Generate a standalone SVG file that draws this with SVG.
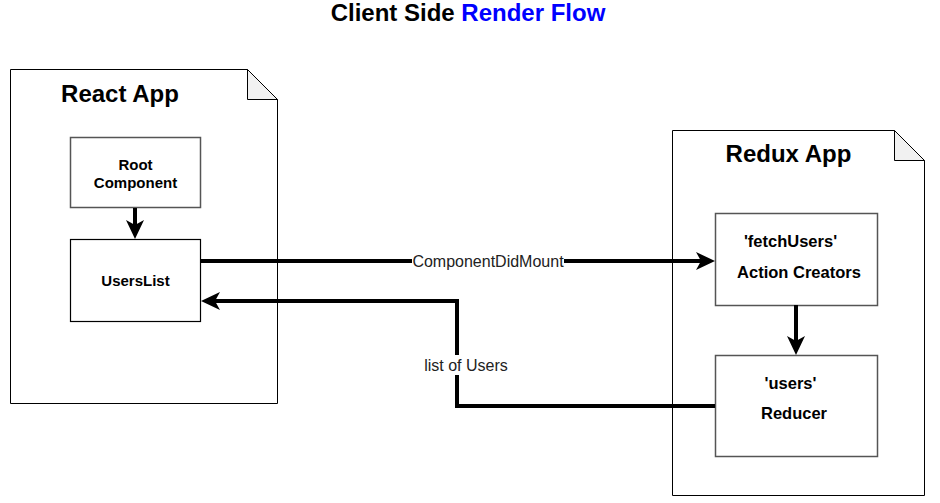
<svg xmlns="http://www.w3.org/2000/svg" width="940" height="503" viewBox="0 0 940 503">
<style>
.doc{fill:#fff;stroke:#000;stroke-width:1}
.fold{fill:#f1f1f1;stroke:#000;stroke-width:1}
.box{fill:#fff;stroke:#555;stroke-width:1.5}
.boxb{fill:#fff;stroke:#000;stroke-width:1.2}
.title{font-family:"Liberation Sans",Arial,sans-serif;font-weight:bold;font-size:24px;fill:#000}
.bt{font-family:"Liberation Sans",Arial,sans-serif;font-weight:bold;font-size:15px;fill:#000;text-anchor:middle}
.bt2{font-family:"Liberation Sans",Arial,sans-serif;font-weight:bold;font-size:16.5px;fill:#000;text-anchor:middle}
.el{font-family:"Liberation Sans",Arial,sans-serif;font-size:16px;fill:#222;text-anchor:middle}
.conn{fill:none;stroke:#000;stroke-width:4}
</style>
<defs>
<marker id="arr" markerUnits="userSpaceOnUse" markerWidth="22" markerHeight="22" refX="6" refY="10" orient="auto">
<path d="M20,10 L1,1 L6,10 L1,19 Z" fill="#000"/>
</marker>
</defs>
<text class="title" x="468" y="21" text-anchor="middle">Client Side <tspan fill="#0000ff">Render Flow</tspan></text>
<g id="react-app">
<path class="doc" d="M10.5,69.5 H247.5 L277.5,99.5 V403.5 H10.5 Z"/>
<path class="fold" d="M247.5,69.5 V99.5 H277.5 Z"/>
<text class="title" x="120" y="102" text-anchor="middle">React App</text>
</g>
<g id="root-component">
<rect class="box" x="70.5" y="137.5" width="130" height="70"/>
<text class="bt" x="135.5" y="170">Root</text>
<text class="bt" x="135.5" y="188">Component</text>
</g>
<g id="users-list">
<rect class="boxb" x="70.5" y="239.5" width="130" height="82"/>
<text class="bt" x="135.5" y="286">UsersList</text>
</g>
<g id="redux-app">
<path class="doc" d="M672.5,130.5 H894.5 L924.5,160.5 V495.5 H672.5 Z"/>
<path class="fold" d="M894.5,130.5 V160.5 H924.5 Z"/>
<text class="title" x="788.5" y="162" text-anchor="middle">Redux App</text>
</g>
<g id="action-creators">
<rect class="box" x="715.5" y="213.5" width="162" height="92"/>
<text class="bt2" x="790.5" y="246.5">'fetchUsers'</text>
<text class="bt2" x="799" y="277.5">Action Creators</text>
</g>
<g id="reducer">
<rect class="box" x="715.5" y="355.5" width="162" height="101"/>
<text class="bt2" x="790.5" y="389">'users'</text>
<text class="bt2" x="794" y="419">Reducer</text>
</g>
<g id="connectors">
<path class="conn" d="M135,208 V225" marker-end="url(#arr)"/>
<path class="conn" d="M200,261 H701" marker-end="url(#arr)"/>
<path class="conn" d="M715,406 H457 V301 H215" marker-end="url(#arr)"/>
<path class="conn" d="M796,305 V341" marker-end="url(#arr)"/>
<rect x="412" y="251" width="152" height="20" fill="#fff"/>
<text class="el" x="488" y="267">ComponentDidMount</text>
<rect x="424" y="355" width="84" height="20" fill="#fff"/>
<text class="el" x="466" y="371">list of Users</text>
</g>
</svg>
